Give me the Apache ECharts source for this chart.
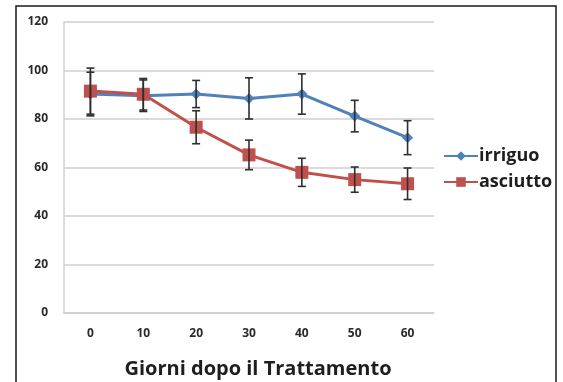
<!DOCTYPE html>
<html><head><meta charset="utf-8">
<script src="https://cdn.jsdelivr.net/npm/echarts@6/dist/echarts.min.js"></script>
<style>html,body{margin:0;padding:0;background:#fff}#c{width:563px;height:382px}</style>
</head><body><div id="c"></div>
<script>
var categories = ['0','10','20','30','40','50','60'];
var irriguo = [90.3, 89.6, 90.3, 88.5, 90.3, 81.2, 72.3];
var irriguoErr = [9, 6.5, 5.6, 8.5, 8.3, 6.5, 7];
var asciutto = [91.5, 90.2, 76.6, 65.2, 58, 55, 53.3];
var asciuttoErr = [9.5, 6.5, 6.8, 6.1, 5.8, 5.2, 6.5];
var yTicks = [0, 20, 40, 60, 80, 100, 120];

var FONT = '"Open Sans", "Liberation Sans", sans-serif';
function errData(vals, errs) {
  return vals.map(function (v, i) { return [i, v - errs[i], v + errs[i]]; });
}
function errRender(params, api) {
  var x = api.value(0);
  var lo = api.coord([x, api.value(1)]);
  var hi = api.coord([x, api.value(2)]);
  var w = 4;
  var st = { stroke: '#2e2e2e', lineWidth: 1.6 };
  return { type: 'group', children: [
    { type: 'line', shape: { x1: lo[0], y1: lo[1], x2: hi[0], y2: hi[1] }, style: st },
    { type: 'line', shape: { x1: lo[0] - w, y1: lo[1], x2: lo[0] + w, y2: lo[1] }, style: st },
    { type: 'line', shape: { x1: hi[0] - w, y1: hi[1], x2: hi[0] + w, y2: hi[1] }, style: st }
  ]};
}
var chart = echarts.init(document.getElementById('c'));
chart.setOption({
  animation: false,
  backgroundColor: '#fff',
  graphic: [{ type: 'rect', shape: { x: 16, y: 6, width: 540, height: 390 }, style: { fill: 'none', stroke: '#1a1a1a', lineWidth: 1.5 }, silent: true }],
  grid: { left: 64, right: 129, top: 22, bottom: 69, containLabel: false, outerBoundsMode: 'none' },
  legend: {
    orient: 'vertical', left: 438, top: 142, itemWidth: 34, itemHeight: 12, itemGap: 8,
    data: ['irriguo', 'asciutto'],
    textStyle: { fontFamily: FONT, fontWeight: 'bold', fontSize: 18, color: '#1e1e1e', padding: [0,0,0,-4] }
  },
  xAxis: {
    type: 'category', data: categories,
    name: 'Giorni dopo il Trattamento', nameLocation: 'middle', nameGap: 46,
    nameTextStyle: { fontFamily: FONT, fontWeight: 'bold', fontSize: 20, color: '#1e1e1e', padding: [0,0,0,18] },
    axisLine: { lineStyle: { color: '#d0d0d0', width: 1.5 } },
    axisTick: { show: false },
    axisLabel: { margin: 15, fontFamily: FONT, fontWeight: 'bold', fontSize: 12, color: '#2a2a2a' }
  },
  yAxis: {
    type: 'value', min: 0, max: 120, interval: 20,
    axisLine: { show: true, lineStyle: { color: '#d0d0d0', width: 1.5 } },
    axisTick: { show: false },
    splitLine: { lineStyle: { color: '#cfcfcf', width: 1.5 } },
    axisLabel: { margin: 16, fontFamily: FONT, fontWeight: 'bold', fontSize: 12, color: '#2a2a2a',
      formatter: function (v) { return yTicks.indexOf(v) >= 0 ? String(v) : ''; } }
  },
  series: [
    { name: 'irriguo', type: 'line', data: irriguo, symbol: 'diamond', symbolSize: 11,
      lineStyle: { color: '#4F81BD', width: 3 }, itemStyle: { color: '#4F81BD' }, z: 3 },
    { name: 'asciutto', type: 'line', data: asciutto, symbol: 'rect', symbolSize: 13,
      lineStyle: { color: '#C0504D', width: 3 }, itemStyle: { color: '#C0504D' }, z: 3 },
    { type: 'custom', renderItem: errRender, data: errData(irriguo, irriguoErr), z: 4, silent: true },
    { type: 'custom', renderItem: errRender, data: errData(asciutto, asciuttoErr), z: 4, silent: true }
  ]
});
</script></body></html>
